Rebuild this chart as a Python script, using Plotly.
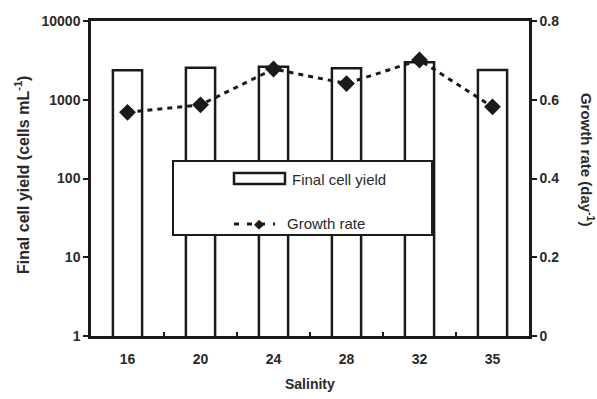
import plotly.graph_objects as go

salinity = ["16", "20", "24", "28", "32", "35"]
cell_yield = [2370, 2550, 2630, 2510, 3000, 2390]
growth_rate = [0.568, 0.587, 0.678, 0.641, 0.701, 0.582]
left_ticks = [1, 10, 100, 1000, 10000]
left_tick_text = ["1", "10", "100", "1000", "10000"]
right_ticks = [0, 0.2, 0.4, 0.6, 0.8]
right_tick_text = ["0", "0.2", "0.4", "0.6", "0.8"]

FONT = "Liberation Sans"
INK = "#1a1a1a"
TXT = "#2a2a2a"

fig = go.Figure()
fig.add_trace(go.Bar(
    x=salinity, y=cell_yield, name="Final cell yield",
    marker=dict(color="white", line=dict(color=INK, width=2.5)),
    width=0.4, showlegend=False, yaxis="y",
))
fig.add_trace(go.Scatter(
    x=salinity, y=growth_rate, name="Growth rate", yaxis="y2",
    mode="lines+markers",
    line=dict(color=INK, width=3, dash="5px,5px"),
    marker=dict(symbol="diamond", size=13, color=INK),
    showlegend=False,
))

axis_font = dict(family=FONT, size=14, color=TXT, weight="bold")

fig.update_layout(
    width=597, height=399,
    margin=dict(l=91, r=68, t=21, b=63),
    paper_bgcolor="white", plot_bgcolor="white",
    font=dict(family=FONT, color=TXT),
    xaxis=dict(
        type="category", showline=True, linecolor=INK, linewidth=2.5,
        mirror=True, ticks="inside", tickson="boundaries", ticklen=4,
        tickwidth=2, tickcolor=INK, showgrid=False, tickfont=axis_font,
        range=[-0.5, 5.5], ticklabelstandoff=8,
    ),
    yaxis=dict(
        type="log", range=[0, 4], showline=True, linecolor=INK, linewidth=2.5,
        ticks="outside", ticklen=5, tickwidth=2, tickcolor=INK,
        tickvals=left_ticks, ticktext=left_tick_text,
        showgrid=False, tickfont=axis_font, zeroline=False,
    ),
    yaxis2=dict(
        overlaying="y", side="right", range=[0, 0.8],
        tickvals=right_ticks, ticktext=right_tick_text,
        showline=True, linecolor=INK, linewidth=2.5,
        ticks="outside", ticklen=5, tickwidth=2, tickcolor=INK,
        showgrid=False, tickfont=axis_font, zeroline=False,
    ),
)

# Axis titles
fig.add_annotation(text="Final cell yield (cells mL<sup>-1</sup>)", xref="paper", yref="paper",
                   x=-0.156, y=0.51, xanchor="center", yanchor="middle", textangle=-90,
                   showarrow=False, font=dict(family=FONT, size=16, color=TXT, weight="bold"))
fig.add_annotation(text="Growth rate (day<sup>-1</sup>)", xref="paper", yref="paper",
                   x=1.134, y=0.56, xanchor="center", yanchor="middle", textangle=90,
                   showarrow=False, font=dict(family=FONT, size=15, color=TXT, weight="bold"))
fig.add_annotation(text="Salinity", xref="paper", yref="paper",
                   x=0.5, y=-0.152, xanchor="center", yanchor="middle",
                   showarrow=False, font=dict(family=FONT, size=14, color=TXT, weight="bold"))

# Legend box (drawn manually)
def px_x(px):
    return (px - 91) / 438

def px_y(py):
    return (336 - py) / 315

fig.add_shape(type="rect", xref="paper", yref="paper",
              x0=px_x(173), x1=px_x(432), y0=px_y(235), y1=px_y(161),
              fillcolor="white", line=dict(color=INK, width=2), layer="above")
fig.add_shape(type="rect", xref="paper", yref="paper",
              x0=px_x(234), x1=px_x(285), y0=px_y(184), y1=px_y(173),
              fillcolor="white", line=dict(color=INK, width=2.5), layer="above")
fig.add_shape(type="line", xref="paper", yref="paper",
              x0=px_x(234), x1=px_x(275), y0=px_y(224), y1=px_y(224),
              line=dict(color=INK, width=3, dash="5px,8px"), layer="above")
fig.add_annotation(text="◆", xref="paper", yref="paper", x=px_x(259), y=px_y(224),
                   xanchor="center", yanchor="middle", showarrow=False,
                   font=dict(family="DejaVu Sans", size=13, color=INK))
fig.add_annotation(text="Final cell yield", xref="paper", yref="paper",
                   x=px_x(290), y=px_y(179), xanchor="left", yanchor="middle",
                   showarrow=False, font=dict(family=FONT, size=15, color=TXT))
fig.add_annotation(text="Growth rate", xref="paper", yref="paper",
                   x=px_x(285), y=px_y(224), xanchor="left", yanchor="middle",
                   showarrow=False, font=dict(family=FONT, size=15, color=TXT))

fig.write_html("out.html")
